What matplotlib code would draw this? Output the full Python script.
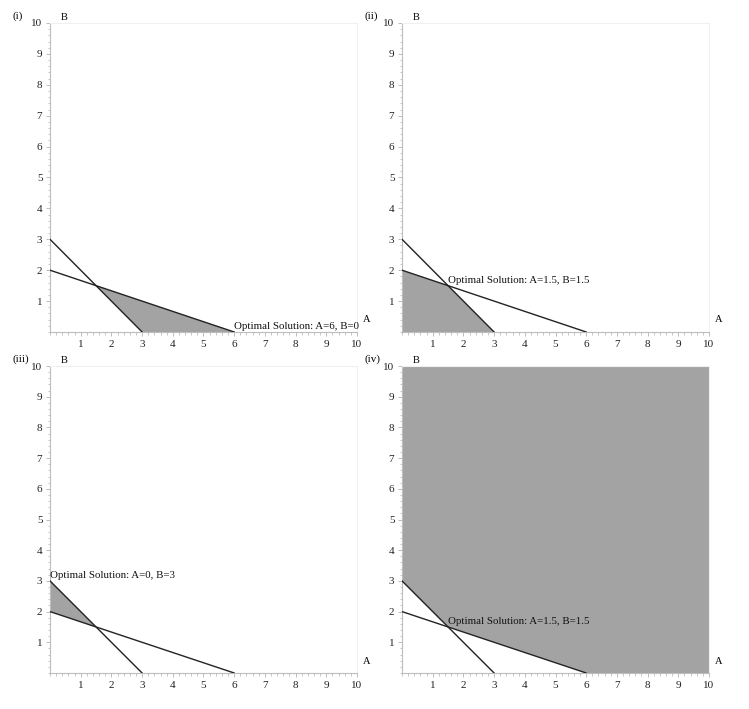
import matplotlib
matplotlib.use("Agg")
import matplotlib.pyplot as plt
from matplotlib.ticker import AutoMinorLocator

plt.rcParams['font.family'] = ['Liberation Serif', 'DejaVu Serif']

# Constraint lines: A + B = 3 and A + 2B = 6
line1_A = [0, 3]
line1_B = [3, 0]
line2_A = [0, 6]
line2_B = [2, 0]

# Shaded regions per panel (vertices)
region_i_A = [1.5, 3, 6]
region_i_B = [1.5, 0, 0]
region_ii_A = [0, 0, 1.5, 3]
region_ii_B = [0, 2, 1.5, 0]
region_iii_A = [0, 0, 1.5]
region_iii_B = [2, 3, 1.5]
region_iv_A = [0, 0, 10, 10, 6, 1.5]
region_iv_B = [3, 10, 10, 0, 0, 1.5]

panel_labels = ['(i)', '(ii)', '(iii)', '(iv)']
regions = [(region_i_A, region_i_B), (region_ii_A, region_ii_B),
           (region_iii_A, region_iii_B), (region_iv_A, region_iv_B)]
opt_text = ['Optimal Solution: A=6, B=0', 'Optimal Solution: A=1.5, B=1.5',
            'Optimal Solution: A=0, B=3', 'Optimal Solution: A=1.5, B=1.5']
opt_A = [6, 1.5, 0, 1.5]
opt_B = [0, 1.5, 3, 1.5]
ticks = [1, 2, 3, 4, 5, 6, 7, 8, 9, 10]

W, H = 749, 709
fig = plt.figure(figsize=(W / 100, H / 100), dpi=100)

px = [(50, 23, 357, 332), (402, 23, 709, 332), (50, 366, 357, 673), (402, 366, 709, 673)]

fill_col = '#a3a3a3'
axis_col = '#bdbdbd'

for k in range(4):
    x0, y0, x1, y1 = px[k]
    ax = fig.add_axes([x0 / W, 1 - y1 / H, (x1 - x0) / W, (y1 - y0) / H])
    ax.set_xlim(0, 10)
    ax.set_ylim(0, 10)
    rA, rB = regions[k]
    ax.fill(rA, rB, color=fill_col, lw=0, zorder=1)
    ax.plot(line1_A, line1_B, color='#222222', lw=1.0, zorder=3)
    ax.plot(line2_A, line2_B, color='#222222', lw=1.0, zorder=3)
    ax.text(opt_A[k], opt_B[k] + 0.02, opt_text[k], fontsize=7.8, ha='left', va='bottom',
            color='#111111', zorder=4)
    for s in ['top', 'right']:
        ax.spines[s].set_color('#f0f0f0')
        ax.spines[s].set_linewidth(0.8)
    for s in ['left', 'bottom']:
        ax.spines[s].set_color(axis_col)
        ax.spines[s].set_linewidth(0.8)
    ax.set_xticks(ticks)
    ax.set_yticks(ticks)
    ax.set_xticklabels([str(t) for t in ticks])
    ax.set_yticklabels([str(t) for t in ticks])
    ax.xaxis.set_minor_locator(AutoMinorLocator(5))
    ax.yaxis.set_minor_locator(AutoMinorLocator(5))
    ax.tick_params(which='major', length=3, width=0.7, color=axis_col, labelsize=8,
                   direction='out', pad=2.5, labelcolor='#222222')
    ax.tick_params(which='minor', length=1.8, width=0.6, color=axis_col, direction='out')
    ax.text(0.46, 10.19, 'B', fontsize=7.5, ha='center', va='center', clip_on=False)
    ax.text(10.33, 0.39, 'A', fontsize=7.5, ha='center', va='center', clip_on=False)
    ax.text(-1.22, 10.22, panel_labels[k], fontsize=8, ha='left', va='center', clip_on=False)

fig.savefig('out.png', dpi=100)
